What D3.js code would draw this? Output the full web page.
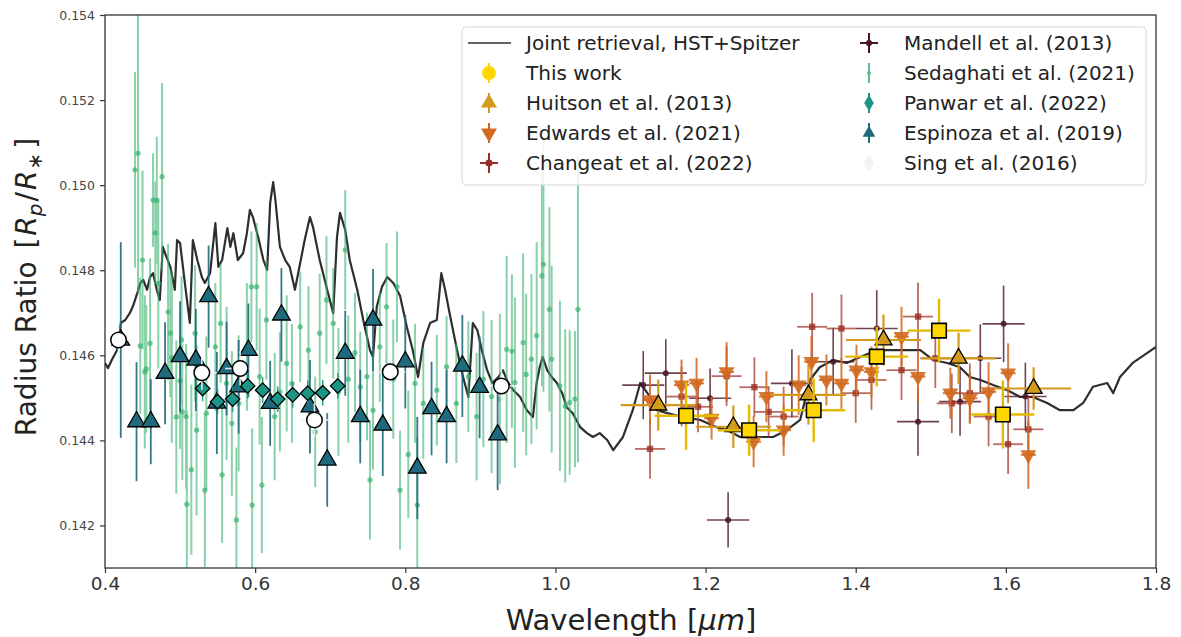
<!DOCTYPE html>
<html>
<head>
<meta charset="utf-8">
<script src="https://cdn.jsdelivr.net/npm/d3@7"></script>
<style>
body { margin: 0; background: #fff; }
svg { display: block; font-family: "DejaVu Sans", sans-serif; }
</style>
</head>
<body>
<div id="chart"></div>
<script>
// joint retrieval model (HST+Spitzer)
var modelW = [0.400,0.404,0.409,0.416,0.421,0.427,0.433,0.437,0.443,0.447,0.451,0.456,0.460,0.464,0.469,0.473,0.477,0.480,0.487,0.493,0.496,0.500,0.507,0.513,0.517,0.523,0.529,0.533,0.540,0.547,0.551,0.556,0.563,0.567,0.571,0.577,0.584,0.589,0.593,0.597,0.604,0.611,0.616,0.620,0.624,0.627,0.633,0.640,0.646,0.653,0.660,0.666,0.673,0.677,0.686,0.696,0.704,0.709,0.713,0.720,0.726,0.736,0.744,0.753,0.757,0.762,0.769,0.776,0.784,0.793,0.802,0.810,0.817,0.824,0.833,0.842,0.848,0.853,0.860,0.869,0.877,0.884,0.890,0.896,0.902,0.909,0.916,0.924,0.930,0.937,0.944,0.953,0.962,0.970,0.975,0.979,0.983,0.989,0.995,1.002,1.009,1.015,1.023,1.033,1.042,1.050,1.059,1.069,1.077,1.090,1.103,1.113,1.126,1.135,1.149,1.170,1.193,1.215,1.229,1.246,1.269,1.290,1.308,1.326,1.339,1.352,1.370,1.388,1.406,1.428,1.446,1.459,1.486,1.503,1.522,1.539,1.552,1.566,1.583,1.602,1.619,1.636,1.655,1.672,1.690,1.703,1.716,1.735,1.743,1.752,1.769,1.788,1.800];
var modelV = [0.14582,0.14570,0.14589,0.14612,0.14676,0.14683,0.14699,0.14714,0.14746,0.14770,0.14777,0.14754,0.14784,0.14793,0.14754,0.14730,0.14855,0.14840,0.14808,0.14754,0.14871,0.14864,0.14761,0.14676,0.14871,0.14824,0.14784,0.14770,0.14793,0.14911,0.14808,0.14824,0.14899,0.14855,0.14887,0.14824,0.14840,0.14887,0.14942,0.14925,0.14878,0.14824,0.14801,0.14958,0.15007,0.14965,0.14855,0.14824,0.14808,0.14754,0.14817,0.14871,0.14925,0.14902,0.14824,0.14754,0.14699,0.14878,0.14935,0.14895,0.14824,0.14754,0.14683,0.14612,0.14596,0.14714,0.14761,0.14784,0.14770,0.14740,0.14667,0.14612,0.14549,0.14629,0.14676,0.14683,0.14793,0.14754,0.14690,0.14612,0.14549,0.14502,0.14676,0.14659,0.14612,0.14565,0.14535,0.14549,0.14565,0.14535,0.14518,0.14502,0.14471,0.14455,0.14535,0.14572,0.14596,0.14565,0.14549,0.14535,0.14511,0.14478,0.14464,0.14431,0.14417,0.14408,0.14417,0.14401,0.14377,0.14408,0.14471,0.14535,0.14502,0.14471,0.14464,0.14455,0.14448,0.14431,0.14424,0.14408,0.14408,0.14408,0.14424,0.14448,0.14542,0.14572,0.14589,0.14582,0.14596,0.14612,0.14612,0.14612,0.14612,0.14589,0.14582,0.14572,0.14549,0.14542,0.14530,0.14518,0.14502,0.14502,0.14488,0.14471,0.14471,0.14488,0.14526,0.14535,0.14511,0.14549,0.14582,0.14605,0.14620];

// This work
var thisW = [1.174,1.258,1.344,1.428,1.511,1.596];
var thisV = [0.14458,0.14424,0.14471,0.14597,0.14658,0.14461];
var thisE = [0.0008,0.0006,0.00075,0.0007,0.00075,0.0008];
var thisBin = [0.042,0.042,0.042,0.042,0.042,0.042];

// Huitson et al. (2013)
var huitW = [1.137,1.237,1.337,1.437,1.537,1.637];
var huitV = [0.14483,0.14432,0.14507,0.14636,0.14593,0.14522];
var huitE = [0.0006,0.0005,0.0007,0.0006,0.0006,0.0005];
var huitBin = [0.05,0.05,0.05,0.05,0.05,0.05];

// Edwards et al. (2021)
var edwW = [1.126,1.168,1.188,1.208,1.228,1.264,1.281,1.304,1.324,1.341,1.361,1.381,1.401,1.421,1.461,1.483,1.526,1.552,1.577,1.603,1.630];
var edwV = [0.14495,0.14530,0.14534,0.14452,0.14561,0.14397,0.14503,0.14424,0.14530,0.14585,0.14542,0.14534,0.14565,0.14561,0.14644,0.14550,0.14511,0.14499,0.14514,0.14558,0.14366];
var edwE = [0.0006,0.0006,0.0006,0.0005,0.0007,0.0006,0.0006,0.0006,0.0007,0.0006,0.0006,0.0006,0.0006,0.0006,0.0007,0.0006,0.0006,0.0006,0.0007,0.0007,0.0008];

// Changeat et al. (2022)
var chgW = [1.126,1.168,1.190,1.228,1.265,1.284,1.304,1.342,1.381,1.400,1.421,1.461,1.483,1.506,1.528,1.552,1.577,1.603,1.630];
var chgV = [0.14380,0.14503,0.14479,0.14551,0.14525,0.14467,0.14456,0.14667,0.14663,0.14511,0.14542,0.14565,0.14691,0.14593,0.14487,0.14511,0.14456,0.14391,0.14426];
var chgE = [0.0007,0.0007,0.0006,0.0007,0.0007,0.0006,0.0007,0.0008,0.0008,0.0007,0.0007,0.0007,0.0008,0.0007,0.0007,0.0007,0.0007,0.0007,0.0008];

// Mandell et al. (2013)
var manW = [1.117,1.147,1.206,1.230,1.315,1.370,1.428,1.483,1.539,1.566,1.597,1.626];
var manV = [0.14530,0.14558,0.14499,0.14213,0.14534,0.14585,0.14663,0.14444,0.14491,0.14593,0.14674,0.14503];
var manE = [0.0008,0.0008,0.0007,0.00065,0.0008,0.0008,0.0009,0.0008,0.0008,0.0008,0.0009,0.0008];

// Sedaghati et al. (2021)
var sedW = [0.440,0.444,0.447,0.450,0.453,0.455,0.460,0.464,0.467,0.469,0.471,0.476,0.484,0.487,0.489,0.495,0.500,0.502,0.503,0.508,0.509,0.515,0.520,0.522,0.533,0.535,0.547,0.554,0.556,0.562,0.569,0.575,0.578,0.589,0.595,0.596,0.602,0.606,0.609,0.615,0.626,0.633,0.642,0.649,0.660,0.671,0.680,0.686,0.695,0.704,0.711,0.720,0.724,0.733,0.740,0.749,0.753,0.757,0.766,0.775,0.784,0.789,0.793,0.804,0.813,0.816,0.824,0.842,0.855,0.868,0.884,0.895,0.904,0.915,0.926,0.935,0.942,0.946,0.957,0.961,0.968,0.975,0.982,0.984,0.992,0.995,1.006,1.013,1.019,1.026,1.030];
var sedV = [0.15036,0.15075,0.14622,0.14824,0.14561,0.14568,0.14628,0.14965,0.14888,0.14964,0.14769,0.15020,0.14702,0.14652,0.14594,0.14455,0.14540,0.14636,0.14467,0.14456,0.14250,0.14331,0.14652,0.14424,0.14283,0.14464,0.14620,0.14675,0.14319,0.14534,0.14440,0.14213,0.14487,0.14620,0.14761,0.14248,0.14761,0.14550,0.14295,0.14683,0.14456,0.14514,0.14581,0.14534,0.14667,0.14612,0.14420,0.14652,0.14730,0.14675,0.14514,0.14848,0.14544,0.14606,0.14526,0.14550,0.14307,0.14471,0.14620,0.14714,0.14544,0.14761,0.14283,0.14367,0.14534,0.14248,0.14487,0.14518,0.14573,0.14487,0.14550,0.14456,0.14544,0.14503,0.14497,0.14614,0.14610,0.14536,0.14630,0.14555,0.14591,0.14646,0.14787,0.14814,0.14708,0.14591,0.14528,0.14481,0.14489,0.14497,0.14708];
var sedE = [0.0023,0.0033,0.0016,0.0021,0.0018,0.0015,0.0020,0.0011,0.0012,0.0015,0.0020,0.0022,0.0016,0.0015,0.0020,0.0018,0.0016,0.0015,0.0016,0.0017,0.0022,0.0020,0.0016,0.0020,0.0018,0.0018,0.0015,0.0014,0.0016,0.0018,0.0017,0.0017,0.0016,0.0015,0.0013,0.0018,0.0015,0.0016,0.0016,0.0014,0.0015,0.0014,0.0016,0.0014,0.0013,0.0015,0.0013,0.0014,0.0015,0.0013,0.0015,0.0014,0.0015,0.0014,0.0013,0.0015,0.0014,0.0014,0.0013,0.0015,0.0014,0.0013,0.0014,0.0015,0.0014,0.0016,0.0013,0.0013,0.0012,0.0014,0.0013,0.0015,0.0016,0.0018,0.0020,0.0022,0.0018,0.0020,0.0021,0.0019,0.0020,0.0022,0.0026,0.0030,0.0024,0.0022,0.0020,0.0018,0.0017,0.0016,0.0036];

// Panwar et al. (2022)
var panW = [0.53,0.55,0.57,0.59,0.61,0.63,0.65,0.67,0.69,0.71];
var panV = [0.14522,0.14491,0.14497,0.14528,0.14518,0.14497,0.14507,0.14511,0.14512,0.14528];

// Espinoza et al. (2019)
var espW = [0.421,0.442,0.461,0.480,0.500,0.521,0.538,0.549,0.562,0.578,0.591,0.620,0.635,0.673,0.696,0.720,0.740,0.757,0.770,0.800,0.816,0.835,0.855,0.876,0.899,0.923];
var espV = [0.14636,0.14444,0.14444,0.14558,0.14597,0.14589,0.14738,0.14488,0.14569,0.14526,0.14612,0.14487,0.14695,0.14479,0.14354,0.14605,0.14456,0.14683,0.14436,0.14585,0.14335,0.14475,0.14456,0.14575,0.14525,0.14413];
var espE = [0.0023,0.0014,0.0010,0.0012,0.0013,0.0012,0.0012,0.0012,0.0011,0.0011,0.0011,0.0010,0.0011,0.0011,0.0011,0.0010,0.0011,0.0012,0.0012,0.0011,0.0012,0.0011,0.0011,0.0012,0.0012,0.0013];

// Sing et al. (2016)
var singW = [0.418,0.529,0.580,0.679,0.780,0.928];
var singV = [0.14636,0.14559,0.14569,0.14448,0.14561,0.14528];

var yTicks = [0.142,0.144,0.146,0.148,0.150,0.152,0.154];
var xTicks = [0.4,0.6,0.8,1.0,1.2,1.4,1.6,1.8];

var width = 1181, height = 637;
var margin = {top: 15, right: 25, bottom: 69, left: 105};

var x = d3.scaleLinear().domain([0.4, 1.8]).range([margin.left, width - margin.right]);
var y = d3.scaleLinear().domain([0.141, 0.154]).range([height - margin.bottom, margin.top]);

var svg = d3.select('#chart').append('svg')
    .attr('width', width).attr('height', height);

svg.append('rect').attr('width', width).attr('height', height).attr('fill', '#fff');

svg.append('clipPath').attr('id', 'clip')
  .append('rect')
    .attr('x', margin.left).attr('y', margin.top)
    .attr('width', width - margin.left - margin.right)
    .attr('height', height - margin.top - margin.bottom);

var plot = svg.append('g').attr('clip-path', 'url(#clip)');

var zip = (ws, vs, es, bs) => ws.map((w, i) => ({w: w, v: vs[i], e: es ? es[i] : 0, b: bs ? bs[i] : 0}));

var sym = (type, size) => d3.symbol().type(type).size(size)();

function errbars(data, color, width, opacity) {
    var g = plot.append('g').attr('stroke', color).attr('stroke-width', width).attr('opacity', opacity);
    data.forEach(d => {
        if (d.e) g.append('line').attr('x1', x(d.w)).attr('x2', x(d.w)).attr('y1', y(d.v - d.e)).attr('y2', y(d.v + d.e));
        if (d.b) g.append('line').attr('x1', x(d.w - d.b)).attr('x2', x(d.w + d.b)).attr('y1', y(d.v)).attr('y2', y(d.v));
    });
}

function markers(data, path, fill, stroke, sw, opacity, rot) {
    plot.append('g').selectAll('path').data(data).enter().append('path')
        .attr('d', path)
        .attr('transform', d => 'translate(' + x(d.w) + ',' + y(d.v) + ')' + (rot ? ' rotate(' + rot + ')' : ''))
        .attr('fill', fill)
        .attr('stroke', stroke)
        .attr('stroke-width', sw)
        .attr('opacity', opacity);
}

// model line
var model = modelW.map((w, i) => [w, modelV[i]]);
plot.append('path')
    .datum(model)
    .attr('d', d3.line().x(d => x(d[0])).y(d => y(d[1])))
    .attr('fill', 'none')
    .attr('stroke', '#2e2e2e')
    .attr('stroke-width', 2.2)
    .attr('stroke-linejoin', 'round');

// Sedaghati
var sed = zip(sedW, sedV, sedE);
errbars(sed, '#3cb371', 2, 0.6);
markers(sed, sym(d3.symbolCircle, 22), '#3cb371', 'none', 0, 0.7);

// Mandell
var man = zip(manW, manV, manE, manW.map(() => 0.028));
errbars(man, '#4a1424', 1.6, 0.8);
markers(man, sym(d3.symbolCircle, 28), '#4a1424', 'none', 0, 0.85);

// Changeat
var chg = zip(chgW, chgV, chgE, chgW.map(() => 0.02));
errbars(chg, '#a33a2e', 1.8, 0.75);
markers(chg, sym(d3.symbolSquare, 40), '#9a2e26', 'none', 0, 0.8);

// Edwards
var edw = zip(edwW, edwV, edwE, edwW.map(() => 0.01));
errbars(edw, '#d2691e', 2, 0.85);
markers(edw, sym(d3.symbolTriangle, 110), '#d2691e', 'none', 0, 0.9, 180);

// Espinoza
var esp = zip(espW, espV, espE);
errbars(esp, '#1f6a7c', 1.8, 0.9);
markers(esp, sym(d3.symbolTriangle, 135), '#1f6a7c', '#000', 1.3, 1);

// Panwar
var pan = zip(panW, panV, panW.map(() => 0.0003));
errbars(pan, '#1b9585', 1.5, 0.9);
markers(pan, sym(d3.symbolSquare, 105), '#1b9585', '#000', 1.3, 1, 45);

// Sing
var sing = zip(singW, singV, singW.map(() => 0.0004), singW.map(() => 0.02));
errbars(sing, '#f5f5f5', 1.6, 0.9);
markers(sing, sym(d3.symbolCircle, 190), '#fff', '#000', 1.5, 1);

// Huitson
var huit = zip(huitW, huitV, huitE, huitBin);
errbars(huit, '#d49a1a', 2.2, 1);
markers(huit, sym(d3.symbolTriangle, 125), '#d49a1a', '#000', 1.3, 1);

// This work
var tw = zip(thisW, thisV, thisE, thisBin);
errbars(tw, '#e2bb00', 2.4, 1);
markers(tw, sym(d3.symbolSquare, 210), '#ffd700', '#000', 1.6, 1);

// axes
var yAxis = svg.append('g')
    .attr('transform', 'translate(' + margin.left + ',0)')
    .call(d3.axisLeft(y).tickValues(yTicks).tickFormat(d3.format('.3f')).tickSize(5).tickPadding(5));
yAxis.selectAll('text').attr('font-size', 12.5).attr('fill', '#444').attr('font-family', 'DejaVu Sans');

var xAxis = svg.append('g')
    .attr('transform', 'translate(0,' + (height - margin.bottom) + ')')
    .call(d3.axisBottom(x).tickValues(xTicks).tickFormat(d3.format('.1f')).tickSize(5).tickPadding(4));
xAxis.selectAll('text').attr('font-size', 18.5).attr('fill', '#333').attr('font-family', 'DejaVu Sans');

[xAxis, yAxis].forEach(a => {
    a.select('.domain').remove();
    a.selectAll('line').attr('stroke', '#333').attr('stroke-width', 1.2);
});

svg.append('rect')
    .attr('x', margin.left).attr('y', margin.top)
    .attr('width', width - margin.left - margin.right)
    .attr('height', height - margin.top - margin.bottom)
    .attr('fill', 'none').attr('stroke', '#333').attr('stroke-width', 1.3);

// axis labels
var xl = svg.append('text')
    .attr('x', 631).attr('y', 630)
    .attr('text-anchor', 'middle').attr('font-size', 29).attr('fill', '#222');
xl.append('tspan').text('Wavelength [');
xl.append('tspan').attr('font-style', 'italic').text('\u03bcm');
xl.append('tspan').text(']');

var yl = svg.append('text')
    .attr('transform', 'translate(36,287) rotate(-90)')
    .attr('text-anchor', 'middle').attr('font-size', 28).attr('fill', '#222');
yl.append('tspan').text('Radius Ratio ');
yl.append('tspan').attr('dx', 4).text('[');
yl.append('tspan').attr('font-style', 'italic').attr('dx', 2).text('R');
yl.append('tspan').attr('font-style', 'italic').attr('font-size', 20).attr('dy', 6).text('p');
yl.append('tspan').attr('dy', -6).attr('dx', 2).text('/');
yl.append('tspan').attr('font-style', 'italic').attr('dx', 2).text('R');
yl.append('tspan').attr('font-size', 20).attr('dy', 6).attr('dx', 1).text('\u2217');
yl.append('tspan').attr('dy', -6).attr('dx', 4).text(']');

// legend
var legend = svg.append('g');
legend.append('rect')
    .attr('x', 462).attr('y', 27).attr('width', 684).attr('height', 158).attr('rx', 4)
    .attr('fill', '#fff').attr('fill-opacity', 0.85).attr('stroke', '#d6d6d6');

var legItems = [
    {label: 'Joint retrieval, HST+Spitzer', kind: 'line'},
    {label: 'This work', color: '#ffd700', shape: d3.symbolCircle, size: 150, ev: 10, eh: 0},
    {label: 'Huitson et al. (2013)', color: '#d49a1a', shape: d3.symbolTriangle, size: 110, ev: 10, eh: 0},
    {label: 'Edwards et al. (2021)', color: '#d2691e', shape: d3.symbolTriangle, size: 110, ev: 10, eh: 0, rot: 180},
    {label: 'Changeat et al. (2022)', color: '#9a2e26', shape: d3.symbolCircle, size: 40, ev: 10, eh: 9},
    {label: 'Mandell et al. (2013)', color: '#4a1424', shape: d3.symbolCircle, size: 30, ev: 10, eh: 9},
    {label: 'Sedaghati et al. (2021)', color: '#5fbf8c', shape: d3.symbolCircle, size: 14, ev: 10, eh: 0},
    {label: 'Panwar et al. (2022)', color: '#1b9585', shape: d3.symbolDiamond, size: 80, ev: 10, eh: 0},
    {label: 'Espinoza et al. (2019)', color: '#1f6a7c', shape: d3.symbolTriangle, size: 70, ev: 10, eh: 0},
    {label: 'Sing et al. (2016)', color: '#f2f2f2', shape: d3.symbolDiamond, size: 90, ev: 0, eh: 0}
];

legItems.forEach((d, i) => {
    var col = i < 5 ? 0 : 1;
    var row = i % 5;
    var mx = col === 0 ? 489 : 869;
    var tx = col === 0 ? 526 : 904;
    var cy = 43 + row * 30;
    var g = legend.append('g');
    if (d.kind === 'line') {
        g.append('line').attr('x1', 468).attr('x2', 511).attr('y1', cy).attr('y2', cy)
            .attr('stroke', '#333').attr('stroke-width', 1.6);
    } else {
        if (d.ev) g.append('line').attr('x1', mx).attr('x2', mx).attr('y1', cy - d.ev).attr('y2', cy + d.ev)
            .attr('stroke', d.color).attr('stroke-width', 2);
        if (d.eh) g.append('line').attr('x1', mx - d.eh).attr('x2', mx + d.eh).attr('y1', cy).attr('y2', cy)
            .attr('stroke', d.color).attr('stroke-width', 2);
        g.append('path').attr('d', sym(d.shape, d.size))
            .attr('transform', 'translate(' + mx + ',' + cy + ')' + (d.rot ? ' rotate(' + d.rot + ')' : ''))
            .attr('fill', d.color);
    }
    g.append('text').attr('x', tx).attr('y', cy).attr('dy', '0.35em')
        .attr('font-size', 20).attr('fill', '#222').text(d.label);
});
</script>
</body>
</html>
